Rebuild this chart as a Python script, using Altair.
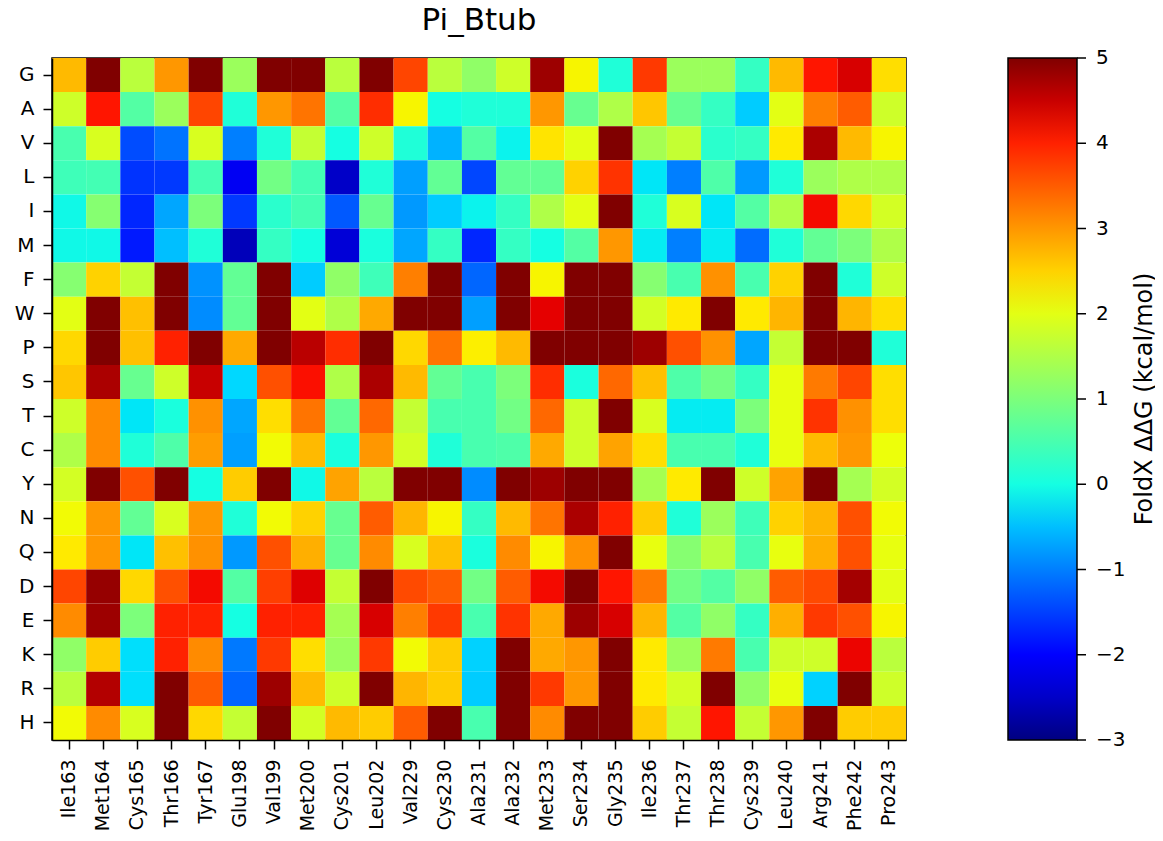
import altair as alt
import pandas as pd

residues = ["Ile163", "Met164", "Cys165", "Thr166", "Tyr167", "Glu198", "Val199",
            "Met200", "Cys201", "Leu202", "Val229", "Cys230", "Ala231", "Ala232",
            "Met233", "Ser234", "Gly235", "Ile236", "Thr237", "Thr238", "Cys239",
            "Leu240", "Arg241", "Phe242", "Pro243"]
mutants = ["G", "A", "V", "L", "I", "M", "F", "W", "P", "S",
           "T", "C", "Y", "N", "Q", "D", "E", "K", "R", "H"]

G = [2.7, 5, 1.6, 3.0, 5, 1.3, 5, 5, 1.6, 5, 3.7, 1.6, 1.2, 1.8, 4.8, 2.2, 0.1, 3.8, 1.3, 1.3, 0.3, 2.7, 4.1, 4.4, 2.4]
A = [1.8, 4.1, 0.6, 1.3, 3.7, 0.1, 3.0, 3.3, 0.6, 3.9, 2.2, 0.0, 0.1, 0.1, 3.0, 0.8, 1.5, 2.6, 0.8, 0.3, -0.4, 2.0, 3.2, 3.5, 1.8]
V = [0.5, 1.9, -1.4, -1.1, 1.9, -1.0, 0.1, 1.7, 0.0, 1.8, 0.1, -0.6, 0.6, -0.1, 2.35, 2.0, 5, 1.4, 1.7, 0.2, 0.3, 2.3, 4.7, 2.7, 2.2]
L = [0.4, 0.45, -1.6, -1.55, 0.45, -2.2, 0.9, 0.45, -2.5, 0.1, -0.75, 0.75, -1.45, 0.75, 0.75, 2.5, 3.85, -0.2, -1.0, 0.55, -0.8, 0.1, 1.3, 1.5, 1.5]
I = [-0.05, 1.1, -1.7, -0.7, 1.0, -1.55, 0.2, 0.45, -1.3, 0.8, -0.8, -0.4, -0.1, 0.3, 1.5, 2.0, 5, 0.1, 1.9, -0.2, 0.6, 1.5, 4.2, 2.45, 1.85]
M = [-0.05, -0.05, -1.8, -0.5, 0.1, -2.6, 0.3, 0.0, -2.4, 0.05, -0.7, 0.3, -1.7, 0.3, 0.0, 0.6, 3.0, -0.15, -1.0, -0.15, -1.15, 0.1, 0.75, 1.0, 1.5]
F = [1.1, 2.5, 1.7, 5, -0.85, 0.75, 5, -0.4, 1.2, 0.4, 3.2, 5, -1.2, 5, 2.2, 5, 5, 1.1, 0.5, 3.05, 0.5, 2.5, 5, 0.1, 1.8]
W = [2.0, 5, 2.65, 5, -0.9, 0.75, 5, 2.0, 1.5, 2.85, 5, 5, -0.75, 5, 4.3, 5, 5, 1.85, 2.3, 5, 2.3, 2.75, 5, 2.75, 2.4]
P = [2.45, 5, 2.65, 4.0, 5, 2.85, 5, 4.6, 3.9, 5, 2.45, 3.3, 2.25, 2.7, 5, 5, 5, 4.8, 3.6, 3.05, -0.7, 1.7, 5, 5, 0.1]
S = [2.6, 4.7, 0.8, 1.8, 4.5, -0.3, 3.6, 4.15, 1.5, 4.7, 2.7, 0.75, 0.5, 1.0, 3.9, 0.05, 3.4, 2.65, 0.55, 0.9, 0.3, 2.05, 3.25, 3.7, 2.4]
T = [1.8, 3.1, -0.2, 0.05, 3.05, -0.7, 2.4, 3.3, 0.75, 3.4, 1.7, 0.5, 0.5, 0.9, 3.4, 1.8, 5, 1.9, -0.15, -0.15, 1.0, 2.05, 3.85, 3.05, 2.4]
C = [1.5, 3.1, 0.1, 0.55, 2.95, -0.75, 2.15, 2.7, 0.05, 3.0, 1.85, 0.1, 0.5, 0.55, 2.85, 1.8, 2.9, 2.4, 0.5, 0.5, 0.1, 2.05, 2.7, 3.0, 2.1]
Y = [1.85, 5, 3.6, 5, 0.0, 2.55, 5, -0.05, 2.9, 1.6, 5, 5, -0.9, 5, 4.8, 5, 5, 1.4, 2.3, 5, 1.8, 2.9, 5, 1.4, 1.85]
N = [2.15, 3.0, 0.75, 1.9, 3.0, 0.1, 2.15, 2.5, 0.8, 3.5, 2.75, 2.2, 0.3, 2.7, 3.3, 4.7, 4.0, 2.55, 0.1, 1.3, 0.4, 2.5, 2.75, 3.6, 2.15]
Q = [2.3, 3.0, -0.2, 2.65, 3.05, -0.8, 3.6, 2.8, 0.8, 3.1, 1.9, 2.65, 0.05, 3.1, 2.2, 3.05, 5, 2.05, 1.1, 1.6, 0.5, 2.05, 2.8, 3.6, 2.05]
D = [3.7, 4.85, 2.45, 3.6, 4.2, 0.6, 3.75, 4.35, 1.7, 5, 3.65, 3.5, 0.9, 3.5, 4.2, 5, 4.1, 3.25, 0.9, 0.6, 1.2, 3.5, 3.65, 4.75, 2.0]
E = [3.1, 4.8, 1.0, 4.0, 4.0, 0.0, 4.0, 4.0, 1.4, 4.4, 3.2, 3.8, 0.5, 3.85, 2.85, 4.8, 4.4, 2.75, 0.6, 1.2, 0.3, 2.8, 3.8, 3.6, 2.2]
K = [1.2, 2.55, -0.25, 4.0, 3.1, -1.05, 3.8, 2.4, 1.3, 3.8, 2.15, 2.55, -0.35, 5, 2.85, 3.0, 5, 2.3, 1.3, 3.25, 0.5, 1.8, 1.8, 4.25, 1.6]
R = [1.6, 4.65, -0.25, 5, 3.5, -1.2, 4.8, 2.7, 1.8, 5, 2.75, 2.55, -0.4, 5, 3.8, 3.0, 5, 2.3, 1.85, 5, 1.2, 2.05, -0.35, 5, 1.8]
H = [2.15, 3.1, 1.9, 5, 2.45, 1.7, 5, 1.85, 2.7, 2.55, 3.5, 5, 0.5, 5, 3.1, 5, 5, 2.55, 1.7, 4.1, 1.7, 3.0, 5, 2.55, 2.55]

colorbar_ticks = [-3, -2, -1, 0, 1, 2, 3, 4, 5]
colorbar_tick_labels = ["−3", "−2", "−1", "0", "1", "2", "3", "4", "5"]
title_text = "Pi_Btub"
cbar_label = "FoldX ΔΔG (kcal/mol)"

rows = {"G": G, "A": A, "V": V, "L": L, "I": I, "M": M, "F": F, "W": W, "P": P, "S": S,
        "T": T, "C": C, "Y": Y, "N": N, "Q": Q, "D": D, "E": E, "K": K, "R": R, "H": H}
records = []
for m in mutants:
    for r, v in zip(residues, rows[m]):
        records.append({"mut": m, "res": r, "ddg": v})
df = pd.DataFrame(records)

# matplotlib "jet" colormap breakpoints mapped to vmin=-3, vmax=5
jet_stops = [-3, -2.12, -2, -0.28, -0.2, 0, 2.12, 2.2, 2.28, 4.12, 4.28, 5]
jet_colors = ["#000080", "#0000ff", "#0000ff", "#00dbff", "#00e6f7", "#15ffe2",
              "#efff08", "#f7f500", "#ffec00", "#ff1300", "#e80000", "#800000"]

FONT = "DejaVu Sans"
W_PLOT, H_PLOT = 854, 682
CBAR_RIGHT = 1025  # colorbar right edge, plot-relative

heat = alt.Chart(df).mark_rect(strokeWidth=0).encode(
    x=alt.X("res:N", sort=residues,
            scale=alt.Scale(paddingInner=0, paddingOuter=0),
            axis=alt.Axis(title=None, labelAngle=270, labelFontSize=19, labelFont=FONT,
                          labelColor="black", tickColor="black", tickSize=9, tickWidth=1.5,
                          labelPadding=10, domainColor="black", domainWidth=1.5,
                          labelBaseline="middle", labelAlign="right")),
    y=alt.Y("mut:N", sort=mutants,
            scale=alt.Scale(paddingInner=0, paddingOuter=0),
            axis=alt.Axis(title=None, labelFontSize=20, labelFont=FONT, labelColor="black",
                          tickColor="black", tickSize=9, tickWidth=1.5, labelPadding=9,
                          domainColor="black", domainWidth=1.5)),
    color=alt.Color("ddg:Q",
                    scale=alt.Scale(domain=jet_stops, range=jet_colors, interpolate="rgb", clamp=True),
                    legend=alt.Legend(orient="none", legendX=956, legendY=0, direction="vertical",
                                      gradientLength=H_PLOT, gradientThickness=69,
                                      gradientStrokeColor="black", gradientStrokeWidth=1.5,
                                      values=colorbar_ticks, labelExpr="''", title=None)),
)

tick_df = pd.DataFrame({"v": colorbar_ticks, "lab": colorbar_tick_labels})
cbar_scale = alt.Scale(domain=[-3, 5], nice=False, zero=False)
cbar_ticks = alt.Chart(tick_df).mark_rule(color="black", strokeWidth=1.5).encode(
    y=alt.Y("v:Q", scale=cbar_scale, axis=None),
    x=alt.value(CBAR_RIGHT),
    x2=alt.value(CBAR_RIGHT + 9),
)
cbar_labels = alt.Chart(tick_df).mark_text(font=FONT, fontSize=20, color="black",
                                           align="left", baseline="middle").encode(
    y=alt.Y("v:Q", scale=cbar_scale, axis=None),
    x=alt.value(CBAR_RIGHT + 19),
    text="lab:N",
)

label_df = pd.DataFrame({"label": [cbar_label]})
cbar_title = alt.Chart(label_df).mark_text(angle=270, fontSize=24, font=FONT, color="black",
                                           align="center", baseline="middle").encode(
    text="label:N",
    x=alt.value(1093),
    y=alt.value(H_PLOT / 2),
)

chart = alt.layer(heat, cbar_ticks, cbar_labels, cbar_title).resolve_scale(y="independent").properties(
    width=W_PLOT, height=H_PLOT,
    title=alt.TitleParams(title_text, fontSize=31, font=FONT, fontWeight="normal",
                          anchor="middle", color="black", offset=11),
    padding={"left": 44, "top": 50, "right": 249, "bottom": 93},
    autosize=alt.AutoSizeParams(type="none"),
).configure_view(stroke="black", strokeWidth=1.5)

chart.save("out.html", embed_options={"renderer": "svg", "actions": False})
